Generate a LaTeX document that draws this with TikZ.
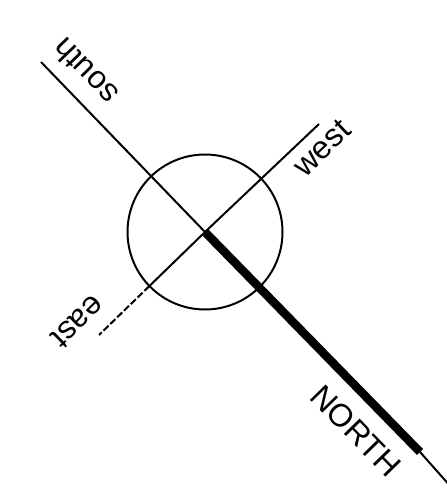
\documentclass[tikz,border=0pt]{standalone}
\usepackage{fontspec}
\setmainfont{Liberation Sans}
\usetikzlibrary{positioning,calc}

\begin{document}
\begin{tikzpicture}[x=1pt,y=-1pt,
    thin line/.style={line width=2pt},
    label text/.style={font=\fontsize{32}{32}\selectfont, inner sep=0pt}]
    \useasboundingbox (0,0) rectangle (447,493);
    % points of the cross
    \coordinate (c) at (205,232);
    \coordinate (s) at (41,62);
    \coordinate (w) at (319,124);
    \coordinate (e) at (99,335);
    \coordinate (n) at (420,452);
    \coordinate (nend) at (452,488);
    % circle and lines
    \draw[thin line] (c) circle (77.5pt);
    \draw[thin line] (s) -- (c);
    \draw[thin line] (c) -- (w);
    \draw[thin line] (c) -- ($(c)!77.5pt!(e)$) coordinate (erim);
    \draw[thin line, dash pattern=on 7pt off 2.5pt] (erim) -- (e);
    \draw[line width=8.5pt] (c) -- (n);
    \draw[thin line] (n) -- (nend);
    % labels
    \node[rotate=134, label text] (south) at (85,72) {south};
    \node[rotate=43.5, label text] (west) at (322,148) {west};
    \node[rotate=224, label text] (east) at (78,322) {east};
    \node[rotate=-45.7, label text] (north) at (356,431) {NORTH};
\end{tikzpicture}
\end{document}
